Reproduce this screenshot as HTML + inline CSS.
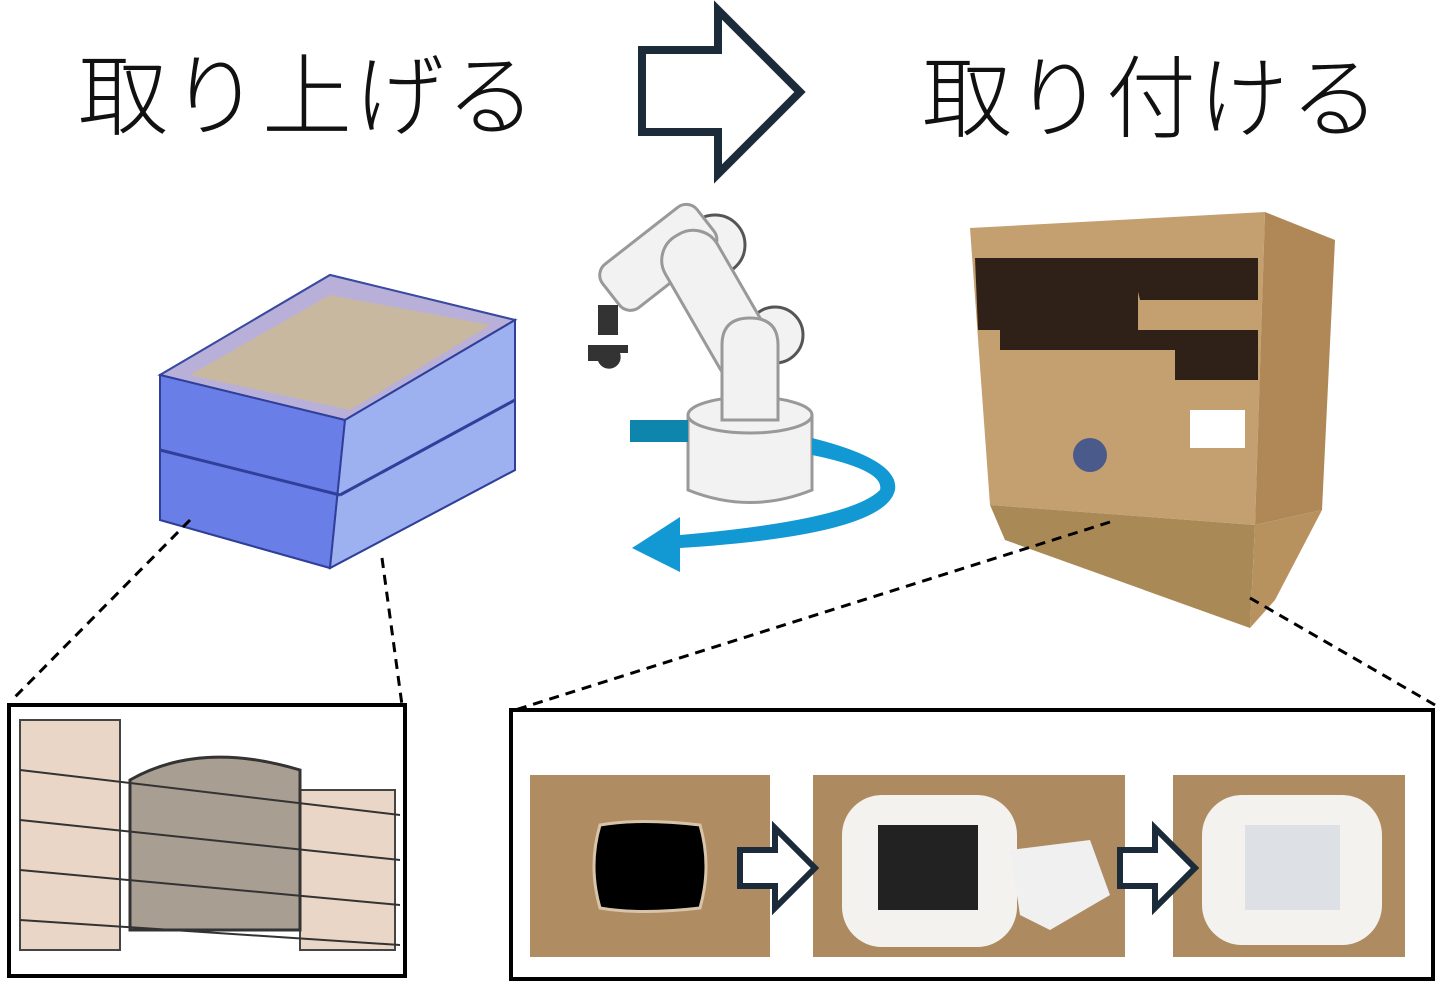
<!DOCTYPE html>
<html><head><meta charset="utf-8"><style>
html,body{margin:0;padding:0;background:#fff}
svg{display:block}
text{font-family:"Liberation Sans","Noto Sans CJK JP",sans-serif}
</style></head><body>
<svg width="1447" height="984" viewBox="0 0 1447 984" xmlns="http://www.w3.org/2000/svg">
<rect width="1447" height="984" fill="#fff"/>
<text x="78" y="128" font-size="90" font-weight="300" fill="#111" letter-spacing="2">取り上げる</text>
<text x="922" y="130" font-size="90" font-weight="300" fill="#111" letter-spacing="2">取り付ける</text>
<!-- big arrow -->
<path d="M642 50 H718 V10 L800 92 L718 174 V132 H642 Z" fill="#fff" stroke="#1b2b3a" stroke-width="8" stroke-linejoin="miter"/>

<!-- crate -->
<polygon points="160,375 330,275 515,320 515,470 330,568 160,520" fill="#6f86e0" stroke="#3a4aa0" stroke-width="2"/>
<polygon points="160,375 330,275 515,320 345,420" fill="#b8b0d8" stroke="#3a4aa0" stroke-width="2"/>
<polygon points="190,375 330,295 490,325 350,410" fill="#c9b8a0"/>
<polygon points="160,375 345,420 330,568 160,520" fill="#6a7ee8" stroke="#2f3f9a" stroke-width="2"/>
<polygon points="345,420 515,320 515,470 330,568" fill="#9db0f0" stroke="#2f3f9a" stroke-width="2"/>
<line x1="160" y1="450" x2="340" y2="495" stroke="#2f3f9a" stroke-width="3"/>
<line x1="340" y1="495" x2="515" y2="400" stroke="#2f3f9a" stroke-width="3"/>

<!-- robot -->
<g stroke="#999" stroke-width="3" fill="#f2f2f2">
<circle cx="715" cy="245" r="30" stroke="#555"/>
<circle cx="775" cy="335" r="28" stroke="#555"/>
<rect x="598" y="230" width="120" height="55" rx="14" transform="rotate(-38 658 257)"/>
<rect x="685" y="225" width="60" height="165" rx="28" transform="rotate(-30 715 300)"/>
<path d="M688 430 V415 Q750 395 812 415 V490 Q750 515 688 490 Z"/>
<ellipse cx="750" cy="415" rx="62" ry="18"/>
<path d="M722 420 V345 Q722 318 750 318 Q778 318 778 345 V420 Z"/>
</g>
<rect x="598" y="305" width="20" height="30" fill="#333"/>
<path d="M588 345 h40 v8 h-8 a10 10 0 0 1 -22 8 h-10z" fill="#333"/>
<path d="M630 420 H688 V442 H630 Z" fill="#0e85ad"/>
<path d="M812 438 Q900 460 895 490 Q885 535 680 548 L680 572 L632 548 L680 517 L680 535 Q850 520 880 490 Q885 470 812 455 Z" fill="#1299d3"/>

<!-- box -->
<polygon points="970,228 1265,212 1255,525 990,505" fill="#c4a070"/>
<polygon points="1265,212 1335,240 1322,510 1255,525" fill="#b08858"/>
<path d="M975 258 H1138 V330 H1258 V380 H1175 V350 H1000 V330 H978 Z" fill="#2f2118"/>
<path d="M1130 258 H1258 V300 H1140 Z" fill="#2f2118"/>
<polygon points="990,505 1255,525 1250,628 1005,540" fill="#a98955"/>
<polygon points="1255,525 1322,510 1275,600 1250,628" fill="#b8925e"/>
<rect x="1190" y="410" width="55" height="38" fill="#fff"/>
<circle cx="1090" cy="455" r="17" fill="#4a5a8a"/>

<!-- dashed lines -->
<g stroke="#000" stroke-width="3" stroke-dasharray="10,7" fill="none">
<line x1="190" y1="520" x2="12" y2="700"/>
<line x1="382" y1="558" x2="402" y2="705"/>
<line x1="1110" y1="522" x2="515" y2="710"/>
<line x1="1250" y1="598" x2="1435" y2="705"/>
</g>

<!-- left inset -->
<rect x="9" y="705" width="396" height="271" fill="#fff" stroke="#000" stroke-width="4"/>
<g fill="#e9d6c6" stroke="#444" stroke-width="2">
<rect x="20" y="720" width="100" height="230"/>
<rect x="300" y="790" width="95" height="160"/>
</g>
<g fill="#a89e92" stroke="#333" stroke-width="3">
<path d="M130 780 Q200 740 300 770 V930 H130 Z"/>
</g>
<g stroke="#333" stroke-width="2" fill="none">
<line x1="20" y1="770" x2="400" y2="815"/><line x1="20" y1="820" x2="400" y2="860"/><line x1="20" y1="870" x2="400" y2="905"/><line x1="20" y1="920" x2="400" y2="945"/>
</g>

<!-- right inset -->
<rect x="511" y="710" width="922" height="269" fill="#fff" stroke="#000" stroke-width="4"/>
<rect x="530" y="775" width="240" height="182" fill="#b08c63"/>
<path d="M600 825 Q640 818 700 825 Q712 866 700 908 Q640 915 600 908 Q588 866 600 825Z" fill="#000" stroke="#d8c4a8" stroke-width="3"/>
<rect x="813" y="775" width="312" height="182" fill="#ad8a60"/>
<rect x="842" y="795" width="175" height="152" rx="40" fill="#f4f2ee"/>
<rect x="878" y="825" width="100" height="85" fill="#222"/>
<path d="M1010 850 L1090 840 L1110 895 L1050 930 L1020 915Z" fill="#f0f0f0"/>
<rect x="1173" y="775" width="232" height="182" fill="#ae8b60"/>
<rect x="1202" y="795" width="180" height="150" rx="40" fill="#f4f2ee"/>
<rect x="1245" y="825" width="95" height="85" fill="#dde0e4"/>
<g fill="#fff" stroke="#1b2b3a" stroke-width="6">
<path d="M740 850 H775 V828 L815 868 L775 908 V886 H740 Z"/>
<path d="M1120 850 H1155 V828 L1195 868 L1155 908 V886 H1120 Z"/>
</g>
</svg>
</body></html>
